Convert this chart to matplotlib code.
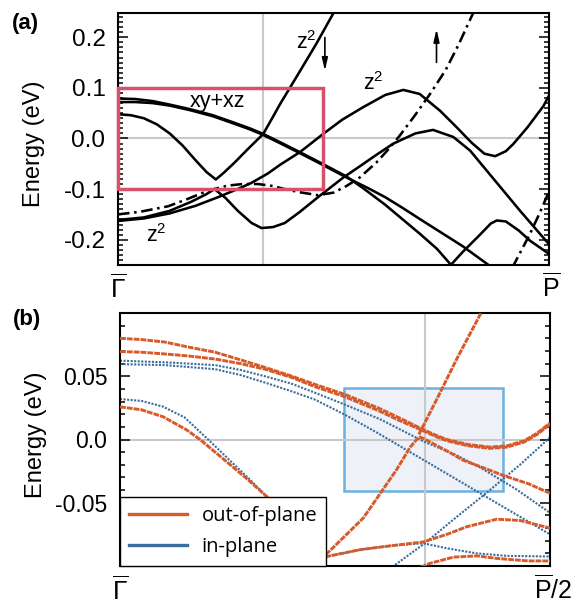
import numpy as np
import matplotlib
matplotlib.use('Agg')
import matplotlib.pyplot as plt
from matplotlib.patches import Rectangle
from matplotlib.lines import Line2D
from matplotlib.ticker import MultipleLocator, FixedLocator, FixedFormatter

plt.rcParams['font.family'] = ['Liberation Sans', 'DejaVu Sans']
plt.rcParams['mathtext.fontset'] = 'custom'
plt.rcParams['mathtext.rm'] = 'Liberation Sans'
plt.rcParams['mathtext.it'] = 'Liberation Sans:italic'
plt.rcParams['mathtext.bf'] = 'Liberation Sans:bold'
plt.rcParams['mathtext.default'] = 'regular'

# ---------------- Panel (a) data : k along Gamma-P (0..1), energy (eV) ----------------
a_yticks = [-0.2, -0.1, 0.0, 0.1, 0.2]
a_yticklabels = ['-0.2', '-0.1', '0.0', '0.1', '0.2']
a_xlabels = [r'$\overline{\Gamma}$', r'$\overline{\mathrm{P}}$']

kA = [0.0, 0.03, 0.06, 0.09, 0.12, 0.15, 0.18, 0.205, 0.227, 0.245, 0.27, 0.30, 0.337, 0.355, 0.376, 0.42, 0.46, 0.50, 0.51]
eA = [0.048, 0.046, 0.040, 0.028, 0.010, -0.014, -0.043, -0.066, -0.081, -0.068, -0.048, -0.022, 0.009, 0.036, 0.068, 0.130, 0.187, 0.248, 0.262]

kL1a = [0.0, 0.04, 0.08, 0.12, 0.167, 0.22, 0.267, 0.306, 0.337, 0.38, 0.422, 0.47, 0.53, 0.57, 0.62, 0.70, 0.74, 0.775]
eL1a = [0.079, 0.078, 0.074, 0.067, 0.058, 0.046, 0.032, 0.020, 0.009, -0.009, -0.027, -0.048, -0.075, -0.099, -0.131, -0.188, -0.218, -0.252]

kL1b = [0.0, 0.04, 0.08, 0.12, 0.167, 0.22, 0.267, 0.306, 0.337, 0.38, 0.422, 0.47, 0.53, 0.58, 0.62, 0.66, 0.70, 0.75, 0.80, 0.863]
eL1b = [0.072, 0.072, 0.070, 0.065, 0.056, 0.044, 0.030, 0.018, 0.007, -0.011, -0.029, -0.050, -0.077, -0.098, -0.116, -0.137, -0.159, -0.186, -0.213, -0.252]

kS1 = [0.0, 0.06, 0.12, 0.18, 0.232, 0.28, 0.309, 0.348, 0.376, 0.422, 0.476, 0.52, 0.569, 0.62, 0.662, 0.70, 0.747, 0.786, 0.82, 0.85, 0.875, 0.90, 0.917, 0.95, 0.987, 1.0]
eS1 = [-0.163, -0.158, -0.148, -0.133, -0.116, -0.099, -0.088, -0.069, -0.052, -0.027, 0.009, 0.037, 0.062, 0.086, 0.096, 0.088, 0.055, 0.022, -0.008, -0.030, -0.035, -0.025, -0.011, 0.022, 0.064, 0.085]

kS2 = [0.0, 0.06, 0.12, 0.17, 0.205, 0.224, 0.25, 0.278, 0.31, 0.333, 0.36, 0.387, 0.422, 0.464, 0.523, 0.561, 0.60, 0.639, 0.69, 0.731, 0.778, 0.817, 0.855, 0.894, 0.933, 1.0]
eS2 = [-0.161, -0.156, -0.143, -0.125, -0.110, -0.100, -0.118, -0.143, -0.167, -0.177, -0.175, -0.167, -0.145, -0.116, -0.077, -0.055, -0.032, -0.010, 0.010, 0.017, 0.003, -0.024, -0.063, -0.103, -0.143, -0.209]

kH3 = [0.77, 0.80, 0.84, 0.865, 0.879, 0.90, 0.93, 0.956, 1.0]
eH3 = [-0.252, -0.224, -0.190, -0.168, -0.162, -0.164, -0.182, -0.202, -0.228]

kD1 = [0.0, 0.05, 0.116, 0.16, 0.209, 0.255, 0.29, 0.325, 0.36, 0.387, 0.42, 0.464, 0.50, 0.53, 0.561, 0.60, 0.631, 0.654, 0.69, 0.724, 0.76, 0.79, 0.824, 0.83]
eD1 = [-0.150, -0.145, -0.134, -0.120, -0.103, -0.093, -0.090, -0.090, -0.094, -0.100, -0.106, -0.112, -0.107, -0.094, -0.077, -0.047, -0.018, 0.006, 0.047, 0.088, 0.135, 0.185, 0.248, 0.26]

kD2 = [0.915, 0.955, 0.978, 1.0]
eD2 = [-0.255, -0.190, -0.148, -0.105]

# ---------------- Panel (b) data : k along Gamma-P/2 (0..1) ----------------
b_yticks = [-0.05, 0.0, 0.05]
b_yticklabels = ['-0.05', '0.0', '0.05']
b_xlabels = [r'$\overline{\Gamma}$', r'$\overline{\mathrm{P}}$/2']
legend_labels = ['out-of-plane', 'in-plane']

# out-of-plane (orange)
kO1 = [0.0, 0.05, 0.105, 0.16, 0.221, 0.28, 0.337, 0.40, 0.453, 0.523, 0.60, 0.65, 0.698, 0.73, 0.76, 0.81, 0.86, 0.90, 0.94, 0.97, 1.0]
eO1 = [0.080, 0.079, 0.077, 0.073, 0.069, 0.063, 0.057, 0.050, 0.0436, 0.0356, 0.025, 0.017, 0.009, 0.004, 0.0, -0.004, -0.006, -0.005, -0.001, 0.005, 0.013]
kO2 = [0.0, 0.05, 0.105, 0.16, 0.221, 0.28, 0.337, 0.40, 0.453, 0.523, 0.60, 0.65, 0.698, 0.73, 0.76, 0.81, 0.86, 0.90, 0.94, 0.97, 1.0]
eO2 = [0.0695, 0.069, 0.0676, 0.066, 0.0636, 0.060, 0.0556, 0.049, 0.0418, 0.0338, 0.023, 0.015, 0.008, 0.003, -0.001, -0.005, -0.007, -0.006, -0.002, 0.004, 0.012]
kO3 = [0.0, 0.05, 0.10, 0.155, 0.186, 0.225, 0.26, 0.295, 0.341, 0.38]
eO3 = [0.0258, 0.0235, 0.018, 0.0076, 0.0, -0.011, -0.021, -0.031, -0.045, -0.060]
kO4 = [0.43, 0.488, 0.566, 0.643, 0.675, 0.69, 0.698, 0.71, 0.76, 0.798, 0.85, 0.891, 0.95, 1.0]
eO4 = [-0.105, -0.088, -0.062, -0.024, -0.006, 0.0, 0.002, 0.0, -0.009, -0.0164, -0.023, -0.0284, -0.035, -0.0425]
kO4u = [0.695, 0.74, 0.783, 0.81, 0.841, 0.846]
eO4u = [0.004, 0.034, 0.0636, 0.081, 0.101, 0.105]
kO5 = [0.43, 0.488, 0.56, 0.63, 0.705, 0.76, 0.806, 0.876, 0.93, 1.0]
eO5 = [-0.097, -0.092, -0.087, -0.084, -0.081, -0.075, -0.069, -0.063, -0.064, -0.070]
kO6 = [0.685, 0.72, 0.775, 0.83, 0.876, 0.95, 1.0]
eO6 = [-0.103, -0.098, -0.093, -0.092, -0.094, -0.096, -0.096]

# in-plane (blue)
kB1 = [0.0, 0.105, 0.221, 0.28, 0.337, 0.40, 0.453, 0.523, 0.605, 0.709, 0.78, 0.837, 0.92, 1.0]
eB1 = [0.0623, 0.061, 0.0588, 0.055, 0.050, 0.044, 0.037, 0.0276, 0.016, -0.002, -0.012, -0.022, -0.039, -0.058]
kB2 = [0.0, 0.105, 0.221, 0.28, 0.337, 0.40, 0.453, 0.523, 0.60, 0.70, 0.80, 0.90, 1.0]
eB2 = [0.0596, 0.0588, 0.0556, 0.051, 0.045, 0.038, 0.0316, 0.0196, 0.005, -0.015, -0.035, -0.055, -0.075]
kB3 = [0.0, 0.05, 0.10, 0.15, 0.205, 0.26, 0.30, 0.341, 0.38]
eB3 = [0.032, 0.0305, 0.026, 0.0175, 0.0, -0.018, -0.031, -0.045, -0.060]
kB4 = [0.43, 0.488, 0.56, 0.63, 0.705, 0.76, 0.829, 0.90, 1.0]
eB4 = [-0.097, -0.092, -0.087, -0.084, -0.082, -0.086, -0.090, -0.092, -0.0925]
kB5 = [0.62, 0.709, 0.78, 0.853, 0.93, 1.0]
eB5 = [-0.104, -0.082, -0.062, -0.042, -0.020, 0.0016]

# ---------------- styling ----------------
ORANGE = '#d65a2a'
BLUE = '#3a6c9c'
GRAY = '#c9c9c9'
RED = '#d9506b'

fig = plt.figure(figsize=(5.76, 6.08), dpi=100)
axA = fig.add_axes([118/576, 1-265/608, 431/576, 252/608])
axB = fig.add_axes([120/576, 1-566/608, 430/576, 253/608])

for ax, lsz in ((axA, 17.5), (axB, 16.5)):
    for s in ax.spines.values():
        s.set_linewidth(1.5)
    ax.set_xticks([])
    ax.tick_params(axis='y', which='both', direction='in', left=True, right=True,
                   labelsize=lsz, width=1.1, pad=9)
    ax.tick_params(axis='y', which='major', length=7)
    ax.tick_params(axis='y', which='minor', length=3.5)

# ---- panel (a)
axA.set_xlim(0, 1)
axA.set_ylim(-0.25, 0.248)
axA.axvline(0.337, color=GRAY, lw=1.5, zorder=1)
axA.axhline(0.0, color=GRAY, lw=1.5, zorder=1)
axA.yaxis.set_major_locator(FixedLocator(a_yticks))
axA.yaxis.set_major_formatter(FixedFormatter(a_yticklabels))
axA.yaxis.set_minor_locator(MultipleLocator(0.01))

lw = 1.85
for k, e in [(kA, eA), (kL1a, eL1a), (kL1b, eL1b), (kS1, eS1), (kS2, eS2), (kH3, eH3)]:
    axA.plot(k, e, color='black', lw=lw, zorder=3, solid_capstyle='round', solid_joinstyle='round')
for k, e in [(kD1, eD1), (kD2, eD2)]:
    axA.plot(k, e, color='black', lw=lw, zorder=3, dashes=(4.5, 1.8, 1, 1.8))

axA.add_patch(Rectangle((0, -0.1), 0.476, 0.2, fill=False, edgecolor=RED, lw=2.5,
                        zorder=4, clip_on=False))

axA.annotate('', xy=(0.48, 0.128), xytext=(0.48, 0.205),
             arrowprops=dict(arrowstyle='-|>,head_length=0.75,head_width=0.17', color='black', lw=1.2))
axA.annotate('', xy=(0.739, 0.222), xytext=(0.739, 0.145),
             arrowprops=dict(arrowstyle='-|>,head_length=0.75,head_width=0.17', color='black', lw=1.2))

axA.text(0.436, 0.19, r'z$^{2}$', fontsize=15.5, ha='center', va='center')
axA.text(0.592, 0.108, r'z$^{2}$', fontsize=15.5, ha='center', va='center')
axA.text(0.23, 0.074, 'xy+xz', fontsize=15.5, ha='center', va='center')
axA.text(0.09, -0.192, r'z$^{2}$', fontsize=15.5, ha='center', va='center')

axA.set_ylabel('Energy (eV)', fontsize=17)
axA.yaxis.set_label_coords(-0.17, 0.48)
axA.text(0.0, -0.093, a_xlabels[0], transform=axA.transAxes, ha='center', va='center',
         fontsize=19, math_fontfamily='stix')
axA.text(1.005, -0.087, a_xlabels[1], transform=axA.transAxes, ha='center', va='center',
         fontsize=18)

# ---- panel (b)
axB.set_xlim(0, 1)
axB.set_ylim(-0.1, 0.1)
axB.yaxis.set_major_locator(FixedLocator(b_yticks))
axB.yaxis.set_major_formatter(FixedFormatter(b_yticklabels))
axB.yaxis.set_minor_locator(MultipleLocator(0.01))

axB.add_patch(Rectangle((0.521, -0.041), 0.37, 0.082, facecolor='#eef1f8',
                        edgecolor='#6cb0e0', lw=1.8, zorder=0.8))
axB.axvline(0.709, color=GRAY, lw=1.5, zorder=1)
axB.axhline(0.0, color=GRAY, lw=1.5, zorder=1)

for k, e in [(kB1, eB1), (kB2, eB2), (kB3, eB3), (kB4, eB4), (kB5, eB5)]:
    axB.plot(k, e, color=BLUE, lw=1.5, linestyle=(0, (1, 0.7)), zorder=2)
for k, e in [(kO1, eO1), (kO2, eO2), (kO3, eO3), (kO4, eO4), (kO4u, eO4u), (kO5, eO5), (kO6, eO6)]:
    axB.plot(k, e, color=ORANGE, lw=2.1, linestyle=(0, (2.0, 0.35)), zorder=3)

handles = [Line2D([], [], color=ORANGE, lw=2.4), Line2D([], [], color=BLUE, lw=2.4)]
leg = axB.legend(handles, legend_labels, loc='lower left', bbox_to_anchor=(0, 0),
                 borderaxespad=0, fancybox=False, edgecolor='black', framealpha=1,
                 prop={'family': 'Open Sans', 'size': 14.5}, handlelength=2.9,
                 handletextpad=0.7, borderpad=0.45, labelspacing=0.55)
leg.get_frame().set_linewidth(1.0)
leg.set_zorder(10)

axB.set_ylabel('Energy (eV)', fontsize=17)
axB.yaxis.set_label_coords(-0.17, 0.52)
axB.text(0.0, -0.095, b_xlabels[0], transform=axB.transAxes, ha='center', va='center',
         fontsize=19, math_fontfamily='stix')
axB.text(1.007, -0.091, b_xlabels[1], transform=axB.transAxes, ha='center', va='center',
         fontsize=18)

fig.text(25/576, 1-23/608, '(a)', fontsize=16, fontweight='bold', ha='center', va='center')
fig.text(27/576, 1-320/608, '(b)', fontsize=16, fontweight='bold', ha='center', va='center')

fig.savefig('out.png', dpi=100)
